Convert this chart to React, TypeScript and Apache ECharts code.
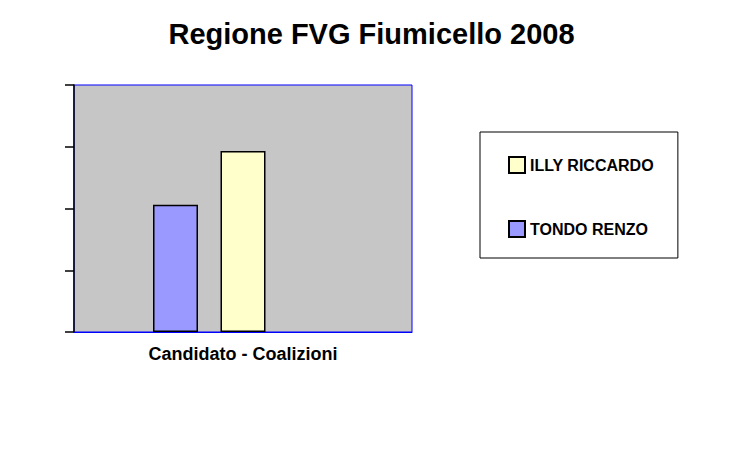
import React, { useEffect, useRef } from "react";
import * as echarts from "echarts";

const categories = ["Candidato - Coalizioni"];
const seriesNames = ["TONDO RENZO", "ILLY RICCARDO", ""];
const tondoValues = [41.2];
const illyValues = [58.6];
const emptyValues: (number | null)[] = [null];
const legendOrder = ["ILLY RICCARDO", "TONDO RENZO"];
const titleText = "Regione FVG Fiumicello 2008";

const FONT = "'Liberation Sans', Arial, sans-serif";

export default function App() {
  const ref = useRef<HTMLDivElement>(null);
  useEffect(() => {
    document.body.style.margin = "0";
    const chart = echarts.init(ref.current!, null, { renderer: "svg" });
    const barStyle = (color: string) => ({
      color,
      borderColor: "#000000",
      borderWidth: 1.5,
    });
    chart.setOption({
      animation: false,
      backgroundColor: "#ffffff",
      title: {
        text: titleText,
        left: "center",
        top: 14,
        textStyle: {
          fontFamily: FONT,
          fontWeight: "bold",
          fontSize: 29,
          color: "#000000",
        },
      },
      legend: {
        data: legendOrder,
        orient: "vertical",
        left: 480,
        top: 132,
        padding: [24, 24, 20, 28],
        itemGap: 46,
        itemWidth: 16,
        itemHeight: 16,
        icon: "rect",
        borderColor: "#000000",
        borderWidth: 1,
        backgroundColor: "#ffffff",
        textStyle: {
          fontFamily: FONT,
          fontWeight: "bold",
          fontSize: 16,
          color: "#000000",
        },
      },
      grid: {
        left: 74,
        top: 85,
        right: 331,
        bottom: 125,
        show: true,
        backgroundColor: "#c6c6c6",
        borderColor: "#0000ff",
        borderWidth: 1,
        containLabel: false,
      },
      xAxis: {
        type: "category",
        data: categories,
        axisLine: { show: true, lineStyle: { color: "#0000ff", width: 1 } },
        axisTick: { show: false },
        axisLabel: {
          margin: 13,
          fontFamily: FONT,
          fontWeight: "bold",
          fontSize: 18,
          color: "#000000",
        },
        splitLine: { show: false },
      },
      yAxis: {
        type: "value",
        min: 0,
        max: 80,
        interval: 20,
        axisLine: { show: true, lineStyle: { color: "#000000", width: 1.5 } },
        axisTick: { show: true, length: 9, lineStyle: { color: "#000000", width: 1.5 } },
        axisLabel: { show: false },
        splitLine: { show: false },
      },
      series: [
        {
          name: seriesNames[0],
          type: "bar",
          data: tondoValues,
          barWidth: 45,
          barGap: "50%",
          itemStyle: barStyle("#9999ff"),
        },
        {
          name: seriesNames[1],
          type: "bar",
          data: illyValues,
          barWidth: 45,
          barGap: "50%",
          itemStyle: barStyle("#ffffcc"),
        },
        {
          name: seriesNames[2],
          type: "bar",
          data: emptyValues,
          barWidth: 45,
          barGap: "50%",
          itemStyle: barStyle("#ccffff"),
        },
      ],
    });
    return () => chart.dispose();
  }, []);
  return (
    <div
      ref={ref}
      style={{ position: "fixed", left: 0, top: 0, width: 743, height: 457 }}
    />
  );
}
